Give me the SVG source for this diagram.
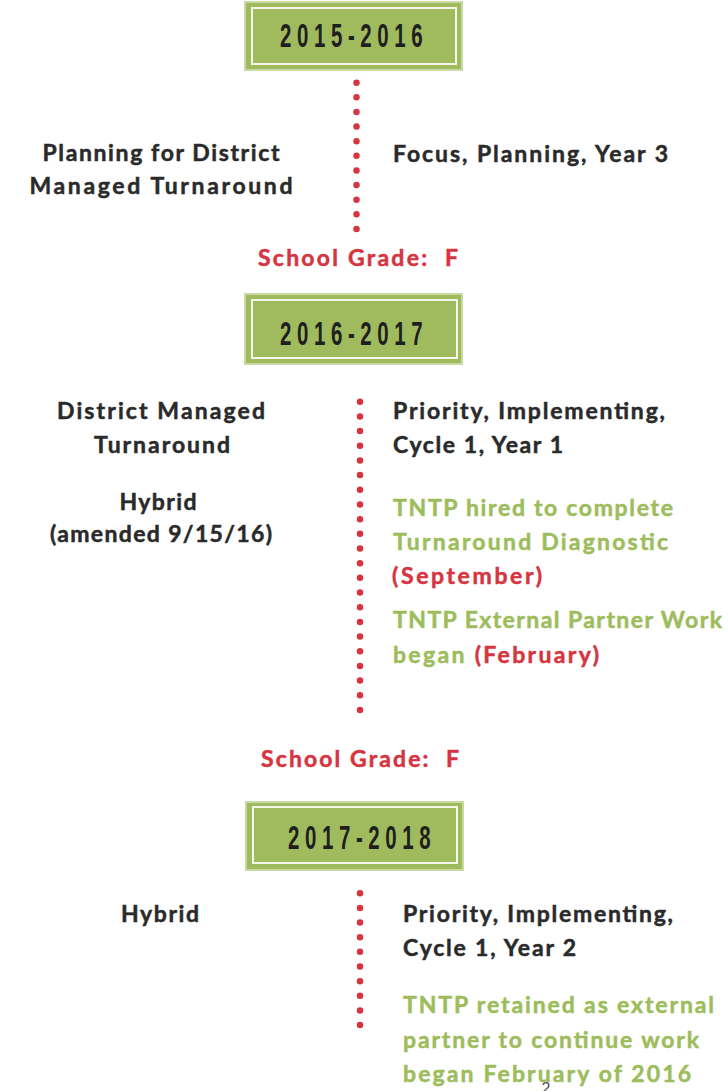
<svg xmlns="http://www.w3.org/2000/svg" width="728" height="1091" viewBox="0 0 728 1091">
<style>
.bg{fill:#ffffff}
.box{fill:#a0bb5e;stroke:#c9d9a3;stroke-width:2}
.inner{fill:none;stroke:#f4f7ea;stroke-width:2}
.yr{font-family:"Liberation Sans",Arial,sans-serif;font-weight:700;font-size:33px;fill:#1f1f1f}
.t{font-family:Lato,"Open Sans",sans-serif;font-weight:700;font-size:23px;stroke-width:0.5}
.dk{fill:#2a2a2a;stroke:#2a2a2a}
.gr{fill:#9dbd5c;stroke:#9dbd5c}
.rd{fill:#d6343f;stroke:#d6343f}
.dots{stroke:#d9333f;stroke-width:6.5;stroke-linecap:round;fill:none}
.pg{font-family:"Liberation Sans",Arial,sans-serif;font-size:16px;fill:#555}
</style>
<rect class="bg" x="0" y="0" width="728" height="1091"/>
<g id="connectors">
<line class="dots" x1="356.5" y1="82.7" x2="356.5" y2="229" stroke-dasharray="0 14.63"/>
<line class="dots" x1="360" y1="401.7" x2="360" y2="710" stroke-dasharray="0 14.68"/>
<line class="dots" x1="360" y1="893.3" x2="360" y2="1039.7" stroke-dasharray="0 14.64"/>
</g>
<g id="year-2015-2016">
<rect class="box" x="245" y="2" width="217" height="68"/>
<rect class="inner" x="252" y="8" width="204" height="56"/>
<text class="yr" transform="translate(280,47) scale(0.62,1)" textLength="230" lengthAdjust="spacing">2015-2016</text>
</g>
<g id="plan-2015">
<text class="t dk" x="161" y="161" text-anchor="middle" textLength="237" lengthAdjust="spacing">Planning for District</text>
<text class="t dk" x="161" y="194" text-anchor="middle" textLength="263" lengthAdjust="spacing">Managed Turnaround</text>
</g>
<g id="status-2015">
<text class="t dk" x="393" y="162" textLength="275" lengthAdjust="spacing">Focus, Planning, Year 3</text>
</g>
<g id="grade-1">
<text class="t rd" x="258" y="266" xml:space="preserve" textLength="200" lengthAdjust="spacing">School Grade:  F</text>
</g>
<g id="year-2016-2017">
<rect class="box" x="245" y="294" width="217" height="70"/>
<rect class="inner" x="252" y="300" width="205" height="58"/>
<text class="yr" transform="translate(280,345) scale(0.62,1)" textLength="230" lengthAdjust="spacing">2016-2017</text>
</g>
<g id="plan-2016">
<text class="t dk" x="161" y="419" text-anchor="middle" textLength="208" lengthAdjust="spacing">District Managed</text>
<text class="t dk" x="162" y="453" text-anchor="middle" textLength="136" lengthAdjust="spacing">Turnaround</text>
<text class="t dk" x="158" y="510" text-anchor="middle" textLength="77" lengthAdjust="spacing">Hybrid</text>
<text class="t dk" x="161" y="542" text-anchor="middle" textLength="222" lengthAdjust="spacing">(amended 9/15/16)</text>
</g>
<g id="status-2016">
<text class="t dk" x="393" y="419" textLength="272" lengthAdjust="spacing">Priority, Implementing,</text>
<text class="t dk" x="393" y="453" textLength="170" lengthAdjust="spacing">Cycle 1, Year 1</text>
<text class="t gr" x="393" y="516" textLength="280" lengthAdjust="spacing">TNTP hired to complete</text>
<text class="t gr" x="393" y="550" textLength="275" lengthAdjust="spacing">Turnaround Diagnostic</text>
<text class="t rd" x="392" y="584" textLength="150" lengthAdjust="spacing">(September)</text>
<text class="t gr" x="393" y="628" textLength="329" lengthAdjust="spacing">TNTP External Partner Work</text>
<text class="t gr" x="393" y="663" textLength="206" lengthAdjust="spacing">began <tspan class="rd">(February)</tspan></text>
</g>
<g id="grade-2">
<text class="t rd" x="261" y="767" xml:space="preserve" textLength="198" lengthAdjust="spacing">School Grade:  F</text>
</g>
<g id="year-2017-2018">
<rect class="box" x="246" y="802" width="217" height="68"/>
<rect class="inner" x="253" y="807" width="204" height="56"/>
<text class="yr" transform="translate(288,849) scale(0.62,1)" textLength="230" lengthAdjust="spacing">2017-2018</text>
</g>
<g id="plan-2017">
<text class="t dk" x="160" y="922" text-anchor="middle" textLength="78" lengthAdjust="spacing">Hybrid</text>
</g>
<g id="status-2017">
<text class="t dk" x="403" y="922" textLength="270" lengthAdjust="spacing">Priority, Implementing,</text>
<text class="t dk" x="403" y="956" textLength="173" lengthAdjust="spacing">Cycle 1, Year 2</text>
<text class="t gr" x="403" y="1013" textLength="311" lengthAdjust="spacing">TNTP retained as external</text>
<text class="t gr" x="403" y="1048" textLength="296" lengthAdjust="spacing">partner to continue work</text>
<text class="t gr" x="403" y="1082" textLength="288" lengthAdjust="spacing">began February of 2016</text>
</g>
<g id="page-number">
<text class="pg" x="546" y="1094" text-anchor="middle">2</text>
</g>
</svg>
